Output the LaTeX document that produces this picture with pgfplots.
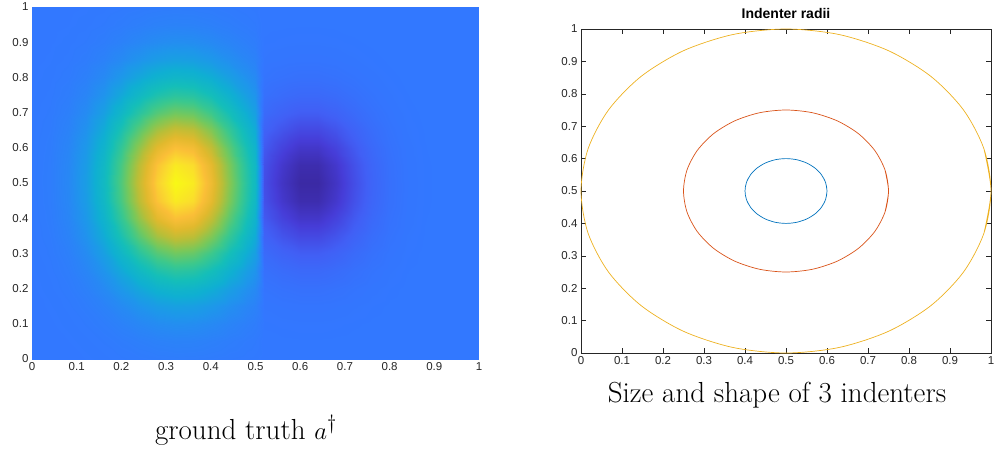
\documentclass[border=0pt]{standalone}
\usepackage{fontspec}
\usepackage{pgfplots}
\pgfplotsset{compat=1.18}
\newfontfamily\tickfont{Liberation Sans}
\definecolor{mblue}{rgb}{0,0.447,0.741}
\definecolor{mred}{rgb}{0.85,0.325,0.098}
\definecolor{myellow}{rgb}{0.929,0.694,0.125}
\definecolor{axgray}{rgb}{0.15,0.15,0.15}
\begin{document}
\begin{tikzpicture}
\path[use as bounding box] (0pt,0pt) rectangle (996pt,451pt);
\begin{axis}[at={(32pt,92pt)}, anchor=south west, width=447pt, height=352pt, scale only axis,
  xmin=0,xmax=1,ymin=0,ymax=1, view={0}{90},
  xtick={0,0.1,0.2,0.3,0.4,0.5,0.6,0.7,0.8,0.9,1},
  ytick={0,0.1,0.2,0.3,0.4,0.5,0.6,0.7,0.8,0.9,1},
  major tick length=0pt, axis line style={draw=none},
  /pgf/number format/assume math mode=true,
  tick label style={font=\tickfont\fontsize{11.5}{13}\selectfont, text=axgray},
  colormap={parulaish}{rgb255(0pt)=(58,40,160); rgb255(6pt)=(70,60,215); rgb255(12pt)=(65,95,245);
    rgb255(18pt)=(50,120,255); rgb255(25pt)=(30,150,235); rgb255(32pt)=(15,175,210);
    rgb255(40pt)=(20,190,185); rgb255(50pt)=(60,200,140); rgb255(60pt)=(120,200,90);
    rgb255(70pt)=(185,190,55); rgb255(78pt)=(225,185,45); rgb255(86pt)=(250,190,55);
    rgb255(93pt)=(250,220,45); rgb255(100pt)=(248,250,20)},
  point meta min=0, point meta max=1]
\addplot3[surf, shader=interp, mesh/cols=27] coordinates {
(0,0,.18) (0.04,0,.1802) (0.08,0,.1805) (0.12,0,.1812) (0.16,0,.1826) (0.2,0,.1847) (0.24,0,.1872) (0.28,0,.1896) (0.32,0,.1908) (0.36,0,.1903) (0.4,0,.1885) (0.44,0,.1859) (0.48,0,.1835) (0.5,0,.1826) (0.52,0,.1798) (0.56,0,.1798) (0.6,0,.1797) (0.64,0,.1797) (0.68,0,.1798) (0.72,0,.1798) (0.76,0,.18) (0.8,0,.18) (0.84,0,.18) (0.88,0,.18) (0.92,0,.18) (0.96,0,.18) (1,0,.18)
(0,0.05,.1801) (0.04,0.05,.1804) (0.08,0.05,.1811) (0.12,0.05,.1827) (0.16,0.05,.1858) (0.2,0.05,.1906) (0.24,0.05,.1965) (0.28,0.05,.2018) (0.32,0.05,.2046) (0.36,0.05,.2036) (0.4,0.05,.1993) (0.44,0.05,.1935) (0.48,0.05,.188) (0.5,0.05,.1858) (0.52,0.05,.1795) (0.56,0.05,.1792) (0.6,0.05,.179) (0.64,0.05,.179) (0.68,0.05,.1792) (0.72,0.05,.1795) (0.76,0.05,.1797) (0.8,0.05,.1799) (0.84,0.05,.18) (0.88,0.05,.18) (0.92,0.05,.18) (0.96,0.05,.18) (1,0.05,.18)
(0,0.1,.1802) (0.04,0.1,.1808) (0.08,0.1,.1823) (0.12,0.1,.1857) (0.16,0.1,.1921) (0.2,0.1,.2021) (0.24,0.1,.2144) (0.28,0.1,.2254) (0.32,0.1,.2312) (0.36,0.1,.2292) (0.4,0.1,.2203) (0.44,0.1,.2081) (0.48,0.1,.1967) (0.5,0.1,.1921) (0.52,0.1,.1785) (0.56,0.1,.1776) (0.6,0.1,.177) (0.64,0.1,.177) (0.68,0.1,.1776) (0.72,0.1,.1785) (0.76,0.1,.1792) (0.8,0.1,.1797) (0.84,0.1,.18) (0.88,0.1,.18) (0.92,0.1,.18) (0.96,0.1,.18) (1,0.1,.18)
(0,0.15,.1804) (0.04,0.15,.1815) (0.08,0.15,.1843) (0.12,0.15,.1909) (0.16,0.15,.2032) (0.2,0.15,.2223) (0.24,0.15,.2457) (0.28,0.15,.2669) (0.32,0.15,.278) (0.36,0.15,.2741) (0.4,0.15,.2571) (0.44,0.15,.2338) (0.48,0.15,.212) (0.5,0.15,.2032) (0.52,0.15,.176) (0.56,0.15,.1738) (0.6,0.15,.1723) (0.64,0.15,.1723) (0.68,0.15,.1738) (0.72,0.15,.176) (0.76,0.15,.178) (0.8,0.15,.1792) (0.84,0.15,.1797) (0.88,0.15,.18) (0.92,0.15,.18) (0.96,0.15,.18) (1,0.15,.18)
(0,0.2,.1807) (0.04,0.2,.1826) (0.08,0.2,.1876) (0.12,0.2,.1991) (0.16,0.2,.2207) (0.2,0.2,.2543) (0.24,0.2,.2953) (0.28,0.2,.3326) (0.32,0.2,.352) (0.36,0.2,.3452) (0.4,0.2,.3153) (0.44,0.2,.2744) (0.48,0.2,.2361) (0.5,0.2,.2207) (0.52,0.2,.1709) (0.56,0.2,.1659) (0.6,0.2,.1624) (0.64,0.2,.1624) (0.68,0.2,.1659) (0.72,0.2,.1709) (0.76,0.2,.1753) (0.8,0.2,.1781) (0.84,0.2,.1794) (0.88,0.2,.1798) (0.92,0.2,.18) (0.96,0.2,.18) (1,0.2,.18)
(0,0.25,.1812) (0.04,0.25,.1841) (0.08,0.25,.1922) (0.12,0.25,.2107) (0.16,0.25,.2455) (0.2,0.25,.2995) (0.24,0.25,.3655) (0.28,0.25,.4254) (0.32,0.25,.4567) (0.36,0.25,.4458) (0.4,0.25,.3976) (0.44,0.25,.3318) (0.48,0.25,.2703) (0.5,0.25,.2455) (0.52,0.25,.1617) (0.56,0.25,.1515) (0.6,0.25,.1445) (0.64,0.25,.1445) (0.68,0.25,.1515) (0.72,0.25,.1617) (0.76,0.25,.1706) (0.8,0.25,.1761) (0.84,0.25,.1787) (0.88,0.25,.1797) (0.92,0.25,.18) (0.96,0.25,.18) (1,0.25,.18)
(0,0.3,.1818) (0.04,0.3,.1861) (0.08,0.3,.198) (0.12,0.3,.2252) (0.16,0.3,.2767) (0.2,0.3,.3563) (0.24,0.3,.4538) (0.28,0.3,.5422) (0.32,0.3,.5884) (0.36,0.3,.5723) (0.4,0.3,.5012) (0.44,0.3,.4041) (0.48,0.3,.3133) (0.5,0.3,.2767) (0.52,0.3,.1476) (0.56,0.3,.1295) (0.6,0.3,.117) (0.64,0.3,.117) (0.68,0.3,.1295) (0.72,0.3,.1476) (0.76,0.3,.1633) (0.8,0.3,.1731) (0.84,0.3,.1777) (0.88,0.3,.1794) (0.92,0.3,.1799) (0.96,0.3,.18) (1,0.3,.18)
(0,0.35,.1824) (0.04,0.35,.1883) (0.08,0.35,.2044) (0.12,0.35,.2413) (0.16,0.35,.311) (0.2,0.35,.4187) (0.24,0.35,.5507) (0.28,0.35,.6704) (0.32,0.35,.7329) (0.36,0.35,.7112) (0.4,0.35,.6149) (0.44,0.35,.4834) (0.48,0.35,.3604) (0.5,0.35,.311) (0.52,0.35,.1293) (0.56,0.35,.101) (0.6,0.35,.0814) (0.64,0.35,.0814) (0.68,0.35,.101) (0.72,0.35,.1293) (0.76,0.35,.1539) (0.8,0.35,.1692) (0.84,0.35,.1765) (0.88,0.35,.179) (0.92,0.35,.1798) (0.96,0.35,.18) (1,0.35,.18)
(0,0.4,.1829) (0.04,0.4,.1903) (0.08,0.4,.2103) (0.12,0.4,.256) (0.16,0.4,.3426) (0.2,0.4,.4763) (0.24,0.4,.6401) (0.28,0.4,.7887) (0.32,0.4,.8663) (0.36,0.4,.8393) (0.4,0.4,.7198) (0.44,0.4,.5566) (0.48,0.4,.404) (0.5,0.4,.3426) (0.52,0.4,.1102) (0.56,0.4,.0712) (0.6,0.4,.0443) (0.64,0.4,.0443) (0.68,0.4,.0712) (0.72,0.4,.1102) (0.76,0.4,.144) (0.8,0.4,.1652) (0.84,0.4,.1751) (0.88,0.4,.1787) (0.92,0.4,.1797) (0.96,0.4,.18) (1,0.4,.18)
(0,0.45,.1834) (0.04,0.45,.1917) (0.08,0.45,.2145) (0.12,0.45,.2666) (0.16,0.45,.3651) (0.2,0.45,.5174) (0.24,0.45,.7039) (0.28,0.45,.8731) (0.32,0.45,.9614) (0.36,0.45,.9307) (0.4,0.45,.7947) (0.44,0.45,.6088) (0.48,0.45,.435) (0.5,0.45,.3651) (0.52,0.45,.0956) (0.56,0.45,.0483) (0.6,0.45,.0158) (0.64,0.45,.0158) (0.68,0.45,.0483) (0.72,0.45,.0956) (0.76,0.45,.1365) (0.8,0.45,.1621) (0.84,0.45,.1741) (0.88,0.45,.1784) (0.92,0.45,.1796) (0.96,0.45,.18) (1,0.45,.18)
(0,0.5,.1835) (0.04,0.5,.1922) (0.08,0.5,.216) (0.12,0.5,.2704) (0.16,0.5,.3733) (0.2,0.5,.5323) (0.24,0.5,.727) (0.28,0.5,.9037) (0.32,0.5,.9959) (0.36,0.5,.9639) (0.4,0.5,.8218) (0.44,0.5,.6277) (0.48,0.5,.4463) (0.5,0.5,.3733) (0.52,0.5,.09) (0.56,0.5,.0396) (0.6,0.5,.0049) (0.64,0.5,.0049) (0.68,0.5,.0396) (0.72,0.5,.09) (0.76,0.5,.1336) (0.8,0.5,.1609) (0.84,0.5,.1737) (0.88,0.5,.1783) (0.92,0.5,.1796) (0.96,0.5,.18) (1,0.5,.18)
(0,0.55,.1834) (0.04,0.55,.1917) (0.08,0.55,.2145) (0.12,0.55,.2666) (0.16,0.55,.3651) (0.2,0.55,.5174) (0.24,0.55,.7039) (0.28,0.55,.8731) (0.32,0.55,.9614) (0.36,0.55,.9307) (0.4,0.55,.7947) (0.44,0.55,.6088) (0.48,0.55,.435) (0.5,0.55,.3651) (0.52,0.55,.0956) (0.56,0.55,.0483) (0.6,0.55,.0158) (0.64,0.55,.0158) (0.68,0.55,.0483) (0.72,0.55,.0956) (0.76,0.55,.1365) (0.8,0.55,.1621) (0.84,0.55,.1741) (0.88,0.55,.1784) (0.92,0.55,.1796) (0.96,0.55,.18) (1,0.55,.18)
(0,0.6,.1829) (0.04,0.6,.1903) (0.08,0.6,.2103) (0.12,0.6,.256) (0.16,0.6,.3426) (0.2,0.6,.4763) (0.24,0.6,.6401) (0.28,0.6,.7887) (0.32,0.6,.8663) (0.36,0.6,.8393) (0.4,0.6,.7198) (0.44,0.6,.5566) (0.48,0.6,.404) (0.5,0.6,.3426) (0.52,0.6,.1102) (0.56,0.6,.0712) (0.6,0.6,.0443) (0.64,0.6,.0443) (0.68,0.6,.0712) (0.72,0.6,.1102) (0.76,0.6,.144) (0.8,0.6,.1652) (0.84,0.6,.1751) (0.88,0.6,.1787) (0.92,0.6,.1797) (0.96,0.6,.18) (1,0.6,.18)
(0,0.65,.1824) (0.04,0.65,.1883) (0.08,0.65,.2044) (0.12,0.65,.2413) (0.16,0.65,.311) (0.2,0.65,.4187) (0.24,0.65,.5507) (0.28,0.65,.6704) (0.32,0.65,.7329) (0.36,0.65,.7112) (0.4,0.65,.6149) (0.44,0.65,.4834) (0.48,0.65,.3604) (0.5,0.65,.311) (0.52,0.65,.1293) (0.56,0.65,.101) (0.6,0.65,.0814) (0.64,0.65,.0814) (0.68,0.65,.101) (0.72,0.65,.1293) (0.76,0.65,.1539) (0.8,0.65,.1692) (0.84,0.65,.1765) (0.88,0.65,.179) (0.92,0.65,.1798) (0.96,0.65,.18) (1,0.65,.18)
(0,0.7,.1818) (0.04,0.7,.1861) (0.08,0.7,.198) (0.12,0.7,.2252) (0.16,0.7,.2767) (0.2,0.7,.3563) (0.24,0.7,.4538) (0.28,0.7,.5422) (0.32,0.7,.5884) (0.36,0.7,.5723) (0.4,0.7,.5012) (0.44,0.7,.4041) (0.48,0.7,.3133) (0.5,0.7,.2767) (0.52,0.7,.1476) (0.56,0.7,.1295) (0.6,0.7,.117) (0.64,0.7,.117) (0.68,0.7,.1295) (0.72,0.7,.1476) (0.76,0.7,.1633) (0.8,0.7,.1731) (0.84,0.7,.1777) (0.88,0.7,.1794) (0.92,0.7,.1799) (0.96,0.7,.18) (1,0.7,.18)
(0,0.75,.1812) (0.04,0.75,.1841) (0.08,0.75,.1922) (0.12,0.75,.2107) (0.16,0.75,.2455) (0.2,0.75,.2995) (0.24,0.75,.3655) (0.28,0.75,.4254) (0.32,0.75,.4567) (0.36,0.75,.4458) (0.4,0.75,.3976) (0.44,0.75,.3318) (0.48,0.75,.2703) (0.5,0.75,.2455) (0.52,0.75,.1617) (0.56,0.75,.1515) (0.6,0.75,.1445) (0.64,0.75,.1445) (0.68,0.75,.1515) (0.72,0.75,.1617) (0.76,0.75,.1706) (0.8,0.75,.1761) (0.84,0.75,.1787) (0.88,0.75,.1797) (0.92,0.75,.18) (0.96,0.75,.18) (1,0.75,.18)
(0,0.8,.1807) (0.04,0.8,.1826) (0.08,0.8,.1876) (0.12,0.8,.1991) (0.16,0.8,.2207) (0.2,0.8,.2543) (0.24,0.8,.2953) (0.28,0.8,.3326) (0.32,0.8,.352) (0.36,0.8,.3452) (0.4,0.8,.3153) (0.44,0.8,.2744) (0.48,0.8,.2361) (0.5,0.8,.2207) (0.52,0.8,.1709) (0.56,0.8,.1659) (0.6,0.8,.1624) (0.64,0.8,.1624) (0.68,0.8,.1659) (0.72,0.8,.1709) (0.76,0.8,.1753) (0.8,0.8,.1781) (0.84,0.8,.1794) (0.88,0.8,.1798) (0.92,0.8,.18) (0.96,0.8,.18) (1,0.8,.18)
(0,0.85,.1804) (0.04,0.85,.1815) (0.08,0.85,.1843) (0.12,0.85,.1909) (0.16,0.85,.2032) (0.2,0.85,.2223) (0.24,0.85,.2457) (0.28,0.85,.2669) (0.32,0.85,.278) (0.36,0.85,.2741) (0.4,0.85,.2571) (0.44,0.85,.2338) (0.48,0.85,.212) (0.5,0.85,.2032) (0.52,0.85,.176) (0.56,0.85,.1738) (0.6,0.85,.1723) (0.64,0.85,.1723) (0.68,0.85,.1738) (0.72,0.85,.176) (0.76,0.85,.178) (0.8,0.85,.1792) (0.84,0.85,.1797) (0.88,0.85,.18) (0.92,0.85,.18) (0.96,0.85,.18) (1,0.85,.18)
(0,0.9,.1802) (0.04,0.9,.1808) (0.08,0.9,.1823) (0.12,0.9,.1857) (0.16,0.9,.1921) (0.2,0.9,.2021) (0.24,0.9,.2144) (0.28,0.9,.2254) (0.32,0.9,.2312) (0.36,0.9,.2292) (0.4,0.9,.2203) (0.44,0.9,.2081) (0.48,0.9,.1967) (0.5,0.9,.1921) (0.52,0.9,.1785) (0.56,0.9,.1776) (0.6,0.9,.177) (0.64,0.9,.177) (0.68,0.9,.1776) (0.72,0.9,.1785) (0.76,0.9,.1792) (0.8,0.9,.1797) (0.84,0.9,.18) (0.88,0.9,.18) (0.92,0.9,.18) (0.96,0.9,.18) (1,0.9,.18)
(0,0.95,.1801) (0.04,0.95,.1804) (0.08,0.95,.1811) (0.12,0.95,.1827) (0.16,0.95,.1858) (0.2,0.95,.1906) (0.24,0.95,.1965) (0.28,0.95,.2018) (0.32,0.95,.2046) (0.36,0.95,.2036) (0.4,0.95,.1993) (0.44,0.95,.1935) (0.48,0.95,.188) (0.5,0.95,.1858) (0.52,0.95,.1795) (0.56,0.95,.1792) (0.6,0.95,.179) (0.64,0.95,.179) (0.68,0.95,.1792) (0.72,0.95,.1795) (0.76,0.95,.1797) (0.8,0.95,.1799) (0.84,0.95,.18) (0.88,0.95,.18) (0.92,0.95,.18) (0.96,0.95,.18) (1,0.95,.18)
(0,1,.18) (0.04,1,.1802) (0.08,1,.1805) (0.12,1,.1812) (0.16,1,.1826) (0.2,1,.1847) (0.24,1,.1872) (0.28,1,.1896) (0.32,1,.1908) (0.36,1,.1903) (0.4,1,.1885) (0.44,1,.1859) (0.48,1,.1835) (0.5,1,.1826) (0.52,1,.1798) (0.56,1,.1798) (0.6,1,.1797) (0.64,1,.1797) (0.68,1,.1798) (0.72,1,.1798) (0.76,1,.18) (0.8,1,.18) (0.84,1,.18) (0.88,1,.18) (0.92,1,.18) (0.96,1,.18) (1,1,.18)
};
\end{axis}
\node[font=\fontsize{29}{33}\selectfont, anchor=base] at (246pt,12pt) {ground truth $a^\dagger$};

\begin{axis}[at={(581pt,98pt)}, anchor=south west, width=410pt, height=324pt, scale only axis,
  xmin=0,xmax=1,ymin=0,ymax=1, clip=false,
  xtick={0,0.1,0.2,0.3,0.4,0.5,0.6,0.7,0.8,0.9,1},
  ytick={0,0.1,0.2,0.3,0.4,0.5,0.6,0.7,0.8,0.9,1},
  tick align=inside, tick pos=both, major tick length=5pt,
  axis line style={draw=axgray, line width=0.6pt}, tick style={axgray, line width=0.6pt},
  /pgf/number format/assume math mode=true,
  tick label style={font=\tickfont\fontsize{11.5}{13}\selectfont, text=axgray},
  title={Indenter radii},
  title style={font=\tickfont\bfseries\fontsize{14}{16}\selectfont, at={(0.5,1)}, anchor=base, yshift=4.5pt}]
\addplot[myellow, line width=0.7pt, smooth] coordinates {
(0.98295,0.3706) (1,0.5) (0.98295,0.6294) (0.933,0.75) (0.85355,0.85355) (0.75,0.933) (0.6294,0.98295) (0.5,1) (0.3706,0.98295) (0.25,0.933) (0.14645,0.85355) (0.067,0.75) (0.01705,0.6294) (0,0.5) (0.01705,0.3706) (0.067,0.25) (0.14645,0.14645) (0.25,0.067) (0.3706,0.01705) (0.5,0) (0.6294,0.01705) (0.75,0.067) (0.85355,0.14645) (0.933,0.25) (0.98295,0.3706) (1,0.5) (0.98295,0.6294)};
\addplot[mred, line width=0.7pt, smooth] coordinates {
(0.7415,0.4353) (0.75,0.5) (0.7415,0.5647) (0.7165,0.625) (0.6768,0.6768) (0.625,0.7165) (0.5647,0.7415) (0.5,0.75) (0.4353,0.7415) (0.375,0.7165) (0.3232,0.6768) (0.2835,0.625) (0.2585,0.5647) (0.25,0.5) (0.2585,0.4353) (0.2835,0.375) (0.3232,0.3232) (0.375,0.2835) (0.4353,0.2585) (0.5,0.25) (0.5647,0.2585) (0.625,0.2835) (0.6768,0.3232) (0.7165,0.375) (0.7415,0.4353) (0.75,0.5) (0.7415,0.5647)};
\addplot[mblue, line width=0.7pt, smooth] coordinates {
(0.5966,0.4741) (0.6,0.5) (0.5966,0.5259) (0.5866,0.55) (0.5707,0.5707) (0.55,0.5866) (0.5259,0.5966) (0.5,0.6) (0.4741,0.5966) (0.45,0.5866) (0.4293,0.5707) (0.4134,0.55) (0.4034,0.5259) (0.4,0.5) (0.4034,0.4741) (0.4134,0.45) (0.4293,0.4293) (0.45,0.4134) (0.4741,0.4034) (0.5,0.4) (0.5259,0.4034) (0.55,0.4134) (0.5707,0.4293) (0.5866,0.45) (0.5966,0.4741) (0.6,0.5) (0.5966,0.5259)};
\end{axis}
\node[font=\fontsize{29}{33}\selectfont, anchor=base] at (777pt,49pt) {Size and shape of 3 indenters};
\end{tikzpicture}
\end{document}
